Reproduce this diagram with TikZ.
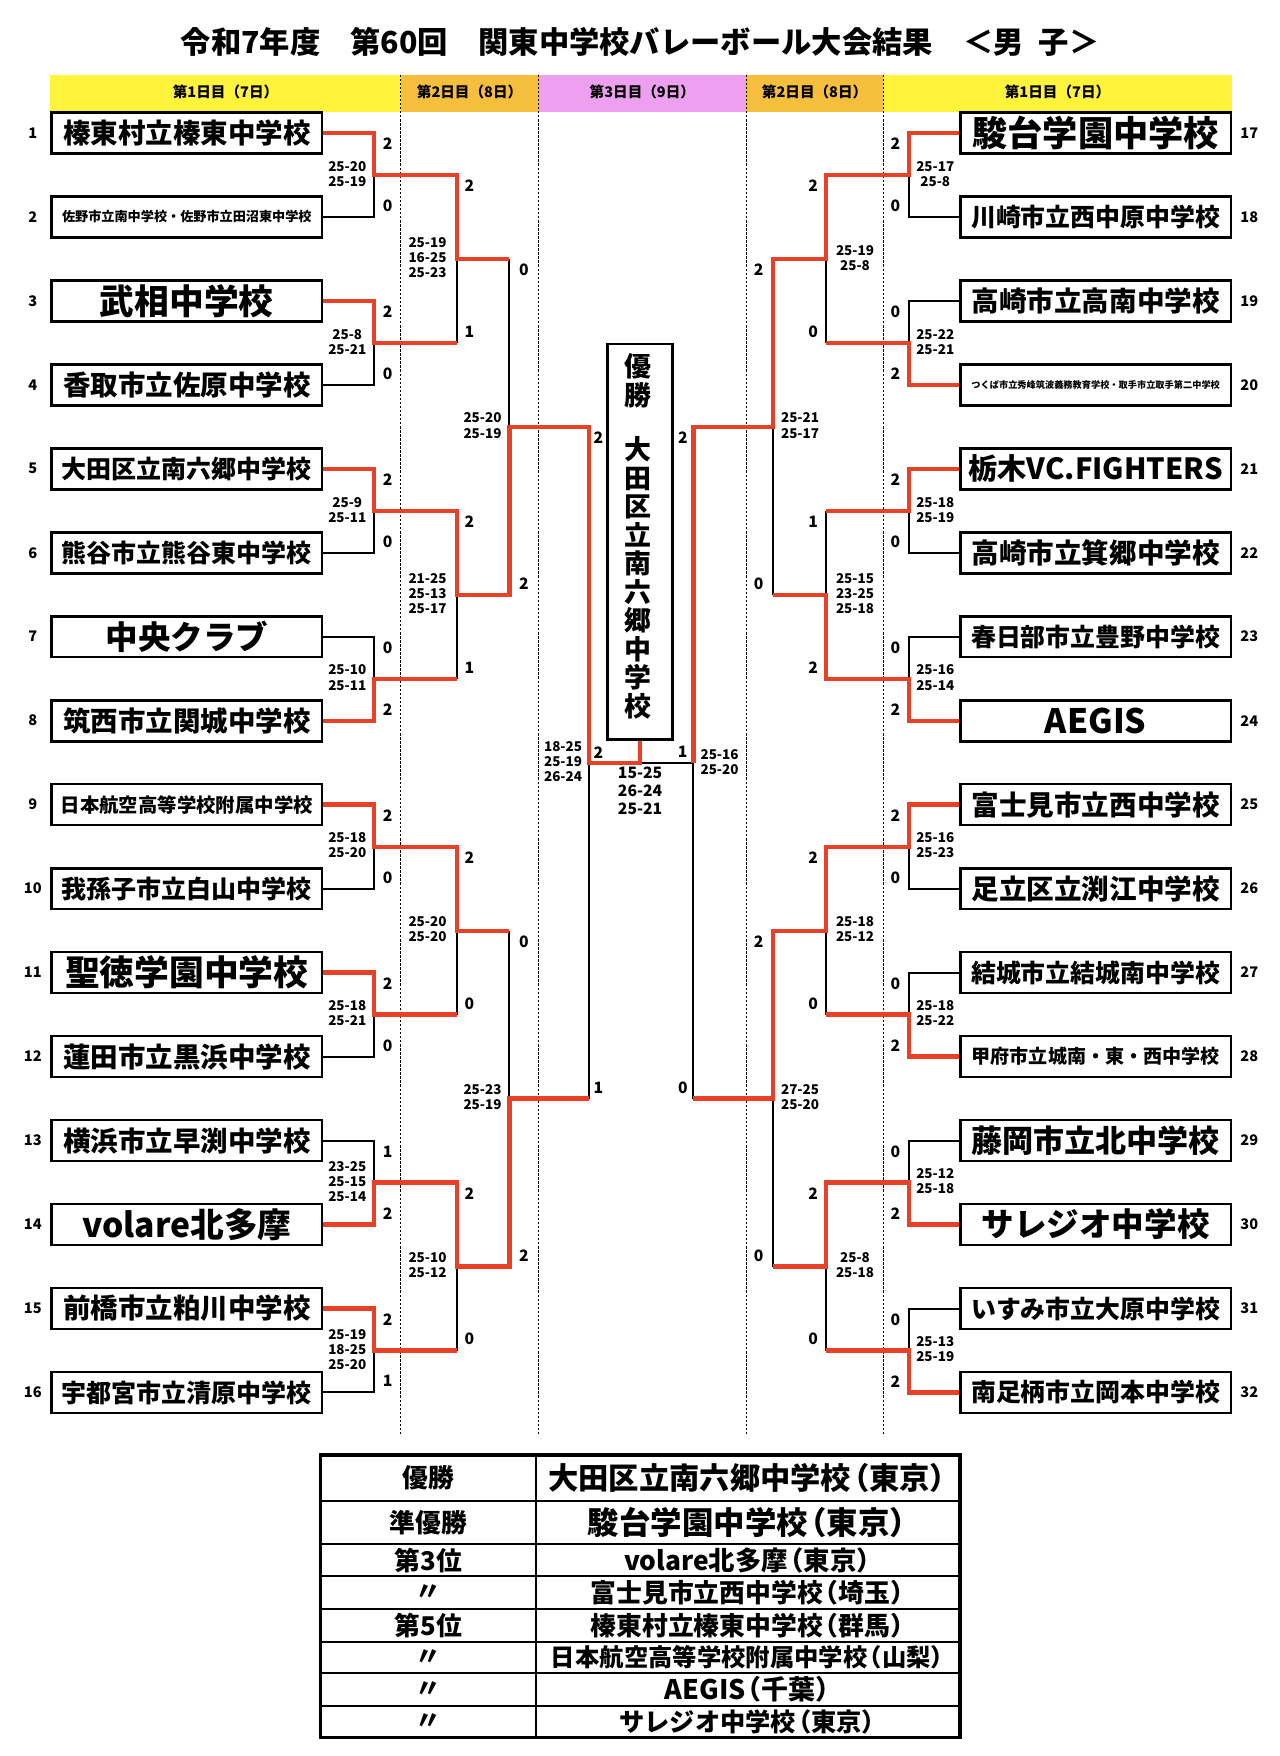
\documentclass[tikz,border=0pt]{standalone}
\usepackage{fontspec}
\setmainfont{Noto Sans CJK JP}
\definecolor{winred}{RGB}{232,65,40}
\definecolor{bandyellow}{RGB}{255,243,60}
\definecolor{bandorange}{RGB}{245,190,60}
\definecolor{bandpink}{RGB}{238,160,240}
\newcommand\fs[1]{\fontsize{#1}{#1}\selectfont\bfseries}
\newcommand\pr[1]{\kern-.4em（#1）\kern-.4em}
\begin{document}
\begin{tikzpicture}[x=1pt,y=-1pt,
  team/.style={draw=black, line width=2.4pt, fill=white, minimum width=241pt, minimum height=36.5pt, inner sep=0pt},
  win/.style={draw=winred, line width=3.8pt, line join=miter},
  lose/.style={draw=black, line width=1.8pt},
  daysep/.style={line width=1pt, dash pattern=on 2.2pt off 1.4pt},
  cnt/.style={font=\fs{14}, inner sep=0pt},
  sc/.style={font=\fontsize{12}{13.4}\selectfont\bfseries, align=center, inner sep=0pt},
  num/.style={font=\fs{13}, inner sep=0pt},
  hdr/.style={font=\fs{13}, inner sep=0pt},
  cell/.style={inner sep=0pt},
]
\useasboundingbox (0,0) rectangle (1140,1565);
% title
\node[font=\fs{27}, inner sep=0pt] (title) at (570.5,37) {令和7年度　第60回　関東中学校バレーボール大会結果　＜男\hspace{0.5em}子＞};
% bands
\fill[bandyellow] (45,66.5) rectangle (357,99.5);
\fill[bandorange] (357,66.5) rectangle (480,99.5);
\fill[bandpink] (480,66.5) rectangle (665,99.5);
\fill[bandorange] (665,66.5) rectangle (787,99.5);
\fill[bandyellow] (787,66.5) rectangle (1098,99.5);
\node[hdr] (h1) at (201,82) {第1日目（7日）};
\node[hdr] (h2) at (418.5,82) {第2日目（8日）};
\node[hdr] (h3) at (572.5,82) {第3日目（9日）};
\node[hdr] (h4) at (726,82) {第2日目（8日）};
\node[hdr] (h5) at (942.5,82) {第1日目（7日）};
\foreach \x in {357,480,665,787} \draw[daysep] (\x,66.5) -- (\x,1278);
% teams left
\foreach \i/\y/\sz/\t in {
 1/118.4/24.5/榛東村立榛東中学校,
 2/193.2/11.7/佐野市立南中学校・佐野市立田沼東中学校,
 3/268.1/31/武相中学校,
 4/342.9/24.5/香取市立佐原中学校,
 5/417.8/22.3/大田区立南六郷中学校,
 6/492.6/22.3/熊谷市立熊谷東中学校,
 7/567.4/29/中央クラブ,
 8/642.3/24.5/筑西市立関城中学校,
 9/717.1/17.3/日本航空高等学校附属中学校,
 10/792.0/22.3/我孫子市立白山中学校,
 11/866.8/31/聖徳学園中学校,
 12/941.6/24.5/蓮田市立黒浜中学校,
 13/1016.5/24.5/横浜市立早渕中学校,
 14/1091.3/30/volare北多摩,
 15/1166.2/24.5/前橋市立粕川中学校,
 16/1241.0/22.3/宇都宮市立清原中学校}
{
 \node[team, font=\fs{\sz}] (L\i) at (166.5,\y) {\t};
 \node[num] (nL\i) at (29.3,\y) {\i};
}
% teams right
\foreach \i/\y/\sz/\t in {
 17/118.4/31.4/駿台学園中学校,
 18/193.2/22.2/川崎市立西中原中学校,
 19/268.1/24.6/高崎市立高南中学校,
 20/342.9/8.2/つくば市立秀峰筑波義務教育学校・取手市立取手第二中学校,
 21/417.8/26/栃木VC.FIGHTERS,
 22/492.6/24.6/高崎市立箕郷中学校,
 23/567.4/22.2/春日部市立豊野中学校,
 24/642.3/30/AEGIS,
 25/717.1/24.6/富士見市立西中学校,
 26/792.0/24.6/足立区立渕江中学校,
 27/866.8/22.2/結城市立結城南中学校,
 28/941.6/17/甲府市立城南・東・西中学校,
 29/1016.5/27.7/藤岡市立北中学校,
 30/1091.3/29/サレジオ中学校,
 31/1166.2/22.2/いすみ市立大原中学校,
 32/1241.0/22.2/南足柄市立岡本中学校}
{
 \node[team, font=\fs{\sz}] (R\i) at (976.5,\y) {\t};
 \node[num] (nR\i) at (1113.4,\y) {\i};
}
% champion box
\node[draw=black, line width=2.4pt, fill=white, minimum width=57.6pt, minimum height=352.2pt, inner sep=0pt] (champ) at (570.5,482.7) {};
\node[font=\fontsize{24}{25.4}\selectfont\bfseries, align=center, inner sep=0pt] (champtext) at (569,478) {優\\勝\\[23pt]大\\田\\区\\立\\南\\六\\郷\\中\\学\\校};
% junction coordinates
\foreach \k/\m in {1/155.8,2/305.5,3/455.2,4/604.9,5/754.6,6/904.2,7/1053.9,8/1203.6}{
  \coordinate (A1\k) at (333,\m); \coordinate (B2\k) at (407,\m);
  \coordinate (rA1\k) at (810,\m); \coordinate (rB2\k) at (736,\m);}
\foreach \j/\m in {1/230.7,2/530.0,3/829.4,4/1128.8}{
  \coordinate (A2\j) at (407,\m); \coordinate (B3\j) at (454,\m);
  \coordinate (rA2\j) at (736,\m); \coordinate (rB3\j) at (689,\m);}
\foreach \j/\m in {1/380.3,2/979.1}{
  \coordinate (A3\j) at (454,\m); \coordinate (B4\j) at (525,\m);
  \coordinate (rA3\j) at (689,\m); \coordinate (rB4\j) at (618,\m);}
\coordinate (A4) at (525,679.7);
\coordinate (rA4) at (618,679.7);
\coordinate (F) at (570.5,679.7);
% loser lines
\foreach \i/\k in {2/1,4/2,6/3,7/4,10/5,12/6,13/7,16/8} \draw[lose] (L\i.east) -| (A1\k);
\foreach \i/\k in {18/1,19/2,22/3,23/4,26/5,27/6,29/7,31/8} \draw[lose] (R\i.west) -| (rA1\k);
\draw[lose] (B22) -- (A21);
\draw[lose] (B24) -- (A22);
\draw[lose] (B26) -- (A23);
\draw[lose] (B28) -- (A24);
\draw[lose] (B31) -- (A31);
\draw[lose] (B33) -- (A32);
\draw[lose] (B42) -- (A4);
\draw[lose] (rB22) -- (rA21);
\draw[lose] (rB23) -- (rA22);
\draw[lose] (rB26) -- (rA23);
\draw[lose] (rB28) -- (rA24);
\draw[lose] (rB32) -- (rA31);
\draw[lose] (rB34) -- (rA32);
\draw[lose] (rB42) -- (rA4);
\draw[lose] (rA4) -- (F);
% winner lines
\draw[win] (L1.east) -| (A11) -- (B21) -- (A21) -- (B31);
\draw[win] (L3.east) -| (A12) -- (B22);
\draw[win] (L5.east) -| (A13) -- (B23) -- (A22) -- (B32) -- (A31) -- (B41) -- (A4) -- (F) -- (champ.south);
\draw[win] (L8.east) -| (A14) -- (B24);
\draw[win] (L9.east) -| (A15) -- (B25) -- (A23) -- (B33);
\draw[win] (L11.east) -| (A16) -- (B26);
\draw[win] (L14.east) -| (A17) -- (B27) -- (A24) -- (B34) -- (A32) -- (B42);
\draw[win] (L15.east) -| (A18) -- (B28);
\draw[win] (R17.west) -| (rA11) -- (rB21) -- (rA21) -- (rB31) -- (rA31) -- (rB41) -- (rA4);
\draw[win] (R20.west) -| (rA12) -- (rB22);
\draw[win] (R21.west) -| (rA13) -- (rB23);
\draw[win] (R24.west) -| (rA14) -- (rB24) -- (rA22) -- (rB32);
\draw[win] (R25.west) -| (rA15) -- (rB25) -- (rA23) -- (rB33) -- (rA32) -- (rB42);
\draw[win] (R28.west) -| (rA16) -- (rB26);
\draw[win] (R30.west) -| (rA17) -- (rB27) -- (rA24) -- (rB34);
\draw[win] (R32.west) -| (rA18) -- (rB28);
% set counts
\foreach \n/\x/\yt/\yb/\a/\b in {
 L11/345.5/118.4/193.2/2/0, L12/345.5/268.1/342.9/2/0, L13/345.5/417.8/492.6/2/0, L14/345.5/567.4/642.3/0/2,
 L15/345.5/717.1/792.0/2/0, L16/345.5/866.8/941.6/2/0, L17/345.5/1016.5/1091.3/1/2, L18/345.5/1166.2/1241.0/2/1,
 L21/418.4/155.8/305.5/2/1, L22/418.4/455.2/604.9/2/1, L23/418.4/754.6/904.2/2/0, L24/418.4/1053.9/1203.6/2/0,
 L31/467/230.7/530.0/0/2, L32/467/829.4/1128.8/0/2,
 L41/533.3/380.3/979.1/2/1,
 R11/797.9/118.4/193.2/2/0, R12/797.9/268.1/342.9/0/2, R13/797.9/417.8/492.6/2/0, R14/797.9/567.4/642.3/0/2,
 R15/797.9/717.1/792.0/2/0, R16/797.9/866.8/941.6/0/2, R17/797.9/1016.5/1091.3/0/2, R18/797.9/1166.2/1241.0/0/2,
 R21/724.7/155.8/305.5/2/0, R22/724.7/455.2/604.9/1/2, R23/724.7/754.6/904.2/2/0, R24/724.7/1053.9/1203.6/2/0,
 R31/676.1/230.7/530.0/2/0, R32/676.1/829.4/1128.8/2/0,
 R41/608.6/380.3/979.1/2/0}
{
 \node[cnt] (ct\n) at (\x,{\yt+9.7}) {\a};
 \node[cnt] (cb\n) at (\x,{\yb-10}) {\b};
}
\node[cnt] (cfl) at (533.3,670.4) {2};
\node[cnt] (cfr) at (608.4,670.4) {1};
% set scores
\foreach \n/\x/\y/\t in {
 L11/309.5/154.8/{25-20\\25-19}, L12/309.5/304.5/{25-8\\25-21}, L13/309.5/454.2/{25-9\\25-11},
 L14/309.5/603.9/{25-10\\25-11}, L15/309.5/753.6/{25-18\\25-20}, L16/309.5/903.2/{25-18\\25-21},
 L17/309.5/1052.9/{23-25\\25-15\\25-14}, L18/309.5/1202.6/{25-19\\18-25\\25-20},
 L21/381/229.7/{25-19\\16-25\\25-23}, L22/381/529.0/{21-25\\25-13\\25-17},
 L23/381/828.4/{25-20\\25-20}, L24/381/1127.8/{25-10\\25-12},
 L31/430/379.3/{25-20\\25-19}, L32/430/978.1/{25-23\\25-19},
 L41/501.8/678.7/{18-25\\25-19\\26-24},
 R11/833.5/154.8/{25-17\\25-8}, R12/833.5/304.5/{25-22\\25-21}, R13/833.5/454.2/{25-18\\25-19},
 R14/833.5/603.9/{25-16\\25-14}, R15/833.5/753.6/{25-16\\25-23}, R16/833.5/903.2/{25-18\\25-22},
 R17/833.5/1052.9/{25-12\\25-18}, R18/833.5/1202.6/{25-13\\25-19},
 R21/762/229.7/{25-19\\25-8}, R22/762/529.0/{25-15\\23-25\\25-18},
 R23/762/828.4/{25-18\\25-12}, R24/762/1127.8/{25-8\\25-18},
 R31/713/379.3/{25-21\\25-17}, R32/713/978.1/{27-25\\25-20},
 R41/641.3/679.2/{25-16\\25-20}}
{
 \node[sc] (s\n) at (\x,\y) {\t};
}
\node[font=\fontsize{14}{16}\selectfont\bfseries, align=center, inner sep=0pt] (sfinal) at (570.5,704.6) {15-25\\26-24\\25-21};
% results table
\draw[line width=2pt] (478,1296.8) -- (478,1548.6);
\foreach \y in {1337.5,1376.1,1404.6,1434.3,1463.1,1491.3,1520.1} \draw[line width=2pt] (285.9,\y) -- (855.6,\y);
\draw[line width=3pt] (285.9,1296.8) rectangle (855.6,1548.6);
\node[cell, font=\fs{23}] (t1a) at (382,1317.2) {優勝};
\node[cell, font=\fs{27}] (t1b) at (666.8,1317.2) {大田区立南六郷中学校\pr{東京}};
\node[cell, font=\fs{23}] (t2a) at (382,1356.8) {準優勝};
\node[cell, font=\fs{28}] (t2b) at (666.8,1356.8) {駿台学園中学校\pr{東京}};
\node[cell, font=\fs{23}] (t3a) at (382,1390.4) {第3位};
\node[cell, font=\fs{23.5}] (t3b) at (666.8,1390.4) {volare北多摩\pr{東京}};
\node[cell, font=\fs{23}] (t4a) at (382,1419.5) {〃};
\node[cell, font=\fs{23}] (t4b) at (666.8,1419.5) {富士見市立西中学校\pr{埼玉}};
\node[cell, font=\fs{23}] (t5a) at (382,1448.7) {第5位};
\node[cell, font=\fs{23}] (t5b) at (666.8,1448.7) {榛東村立榛東中学校\pr{群馬}};
\node[cell, font=\fs{23}] (t6a) at (382,1477.2) {〃};
\node[cell, font=\fs{21.7}] (t6b) at (666.8,1477.2) {日本航空高等学校附属中学校\pr{山梨}};
\node[cell, font=\fs{23}] (t7a) at (382,1505.7) {〃};
\node[cell, font=\fs{24}] (t7b) at (666.8,1505.7) {AEGIS\pr{千葉}};
\node[cell, font=\fs{23}] (t8a) at (382,1534.4) {〃};
\node[cell, font=\fs{22.5}] (t8b) at (666.8,1534.4) {サレジオ中学校\pr{東京}};
\end{tikzpicture}
\end{document}
